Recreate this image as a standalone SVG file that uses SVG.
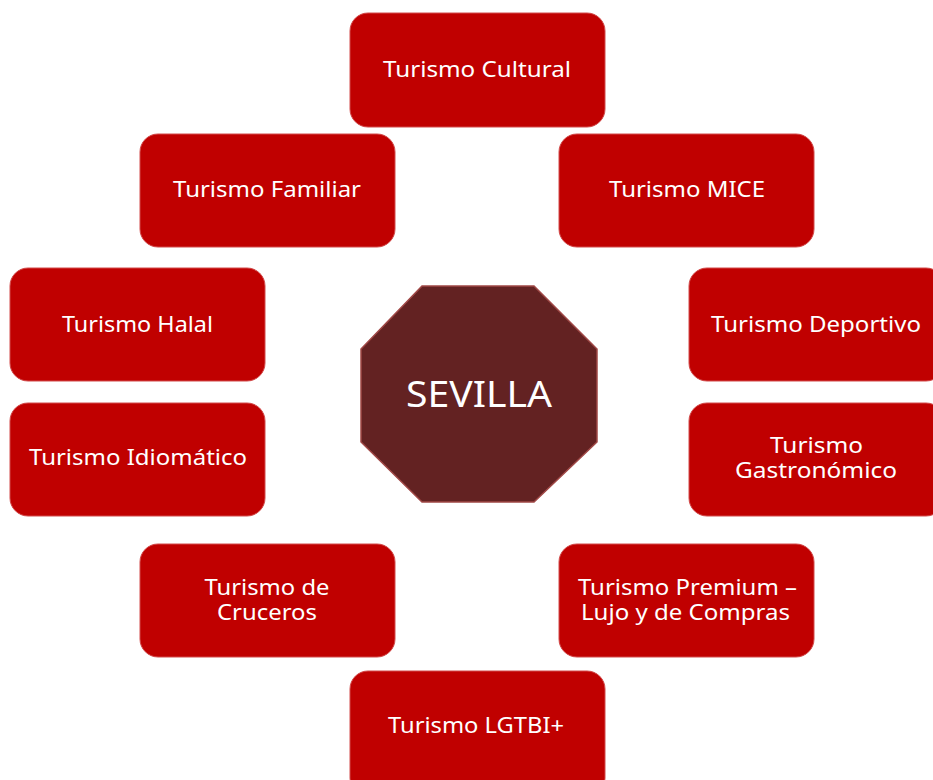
<svg xmlns="http://www.w3.org/2000/svg" width="933" height="780" viewBox="0 0 933 780">
<style>
.box{fill:#C00000;stroke:#D24A4A;stroke-width:1}
.t{fill:#FFFFFF;font-family:"Noto Sans","Open Sans","DejaVu Sans",sans-serif;font-size:22px;text-anchor:middle}
.big{font-size:36px}
.oct{fill:#632222;stroke:#A04846;stroke-width:1.5}
</style>
<rect width="933" height="780" fill="#FFFFFF"/>
<g id="connectors"></g>
<g id="center">
<polygon class="oct" points="422,286 534,286 597,349 597,442 534,502 422,502 361,442 361,349"/>
<text class="t big" x="479" y="407" textLength="146" lengthAdjust="spacingAndGlyphs">SEVILLA</text>
</g>
<g id="cultural">
<rect class="box" x="350" y="13" width="255" height="114" rx="18"/>
<text class="t" x="477" y="77" textLength="188" lengthAdjust="spacingAndGlyphs">Turismo Cultural</text>
</g>
<g id="familiar">
<rect class="box" x="140" y="134" width="255" height="113" rx="18"/>
<text class="t" x="267" y="197" textLength="188" lengthAdjust="spacingAndGlyphs">Turismo Familiar</text>
</g>
<g id="mice">
<rect class="box" x="559" y="134" width="255" height="113" rx="18"/>
<text class="t" x="687" y="197" textLength="156" lengthAdjust="spacingAndGlyphs">Turismo MICE</text>
</g>
<g id="halal">
<rect class="box" x="10" y="268" width="255" height="113" rx="18"/>
<text class="t" x="137.5" y="332" textLength="151" lengthAdjust="spacingAndGlyphs">Turismo Halal</text>
</g>
<g id="idiomatico">
<rect class="box" x="10" y="403" width="255" height="113" rx="18"/>
<text class="t" x="138" y="465" textLength="218" lengthAdjust="spacingAndGlyphs">Turismo Idiomático</text>
</g>
<g id="deportivo">
<rect class="box" x="689" y="268" width="255" height="113" rx="18"/>
<text class="t" x="816" y="332" textLength="210" lengthAdjust="spacingAndGlyphs">Turismo Deportivo</text>
</g>
<g id="gastronomico">
<rect class="box" x="689" y="403" width="255" height="113" rx="18"/>
<text class="t" x="816.5" y="453" textLength="93" lengthAdjust="spacingAndGlyphs">Turismo</text>
<text class="t" x="816" y="478" textLength="162" lengthAdjust="spacingAndGlyphs">Gastronómico</text>
</g>
<g id="cruceros">
<rect class="box" x="140" y="544" width="255" height="113" rx="18"/>
<text class="t" x="267" y="595" textLength="125" lengthAdjust="spacingAndGlyphs">Turismo de</text>
<text class="t" x="267" y="620" textLength="100" lengthAdjust="spacingAndGlyphs">Cruceros</text>
</g>
<g id="premium">
<rect class="box" x="559" y="544" width="255" height="113" rx="18"/>
<text class="t" x="687.5" y="595" textLength="219" lengthAdjust="spacingAndGlyphs">Turismo Premium –</text>
<text class="t" x="685.5" y="620" textLength="209" lengthAdjust="spacingAndGlyphs">Lujo y de Compras</text>
</g>
<g id="lgtbi">
<rect class="box" x="350" y="671" width="255" height="125" rx="18"/>
<text class="t" x="476" y="733" textLength="176" lengthAdjust="spacingAndGlyphs">Turismo LGTBI+</text>
</g>
</svg>
